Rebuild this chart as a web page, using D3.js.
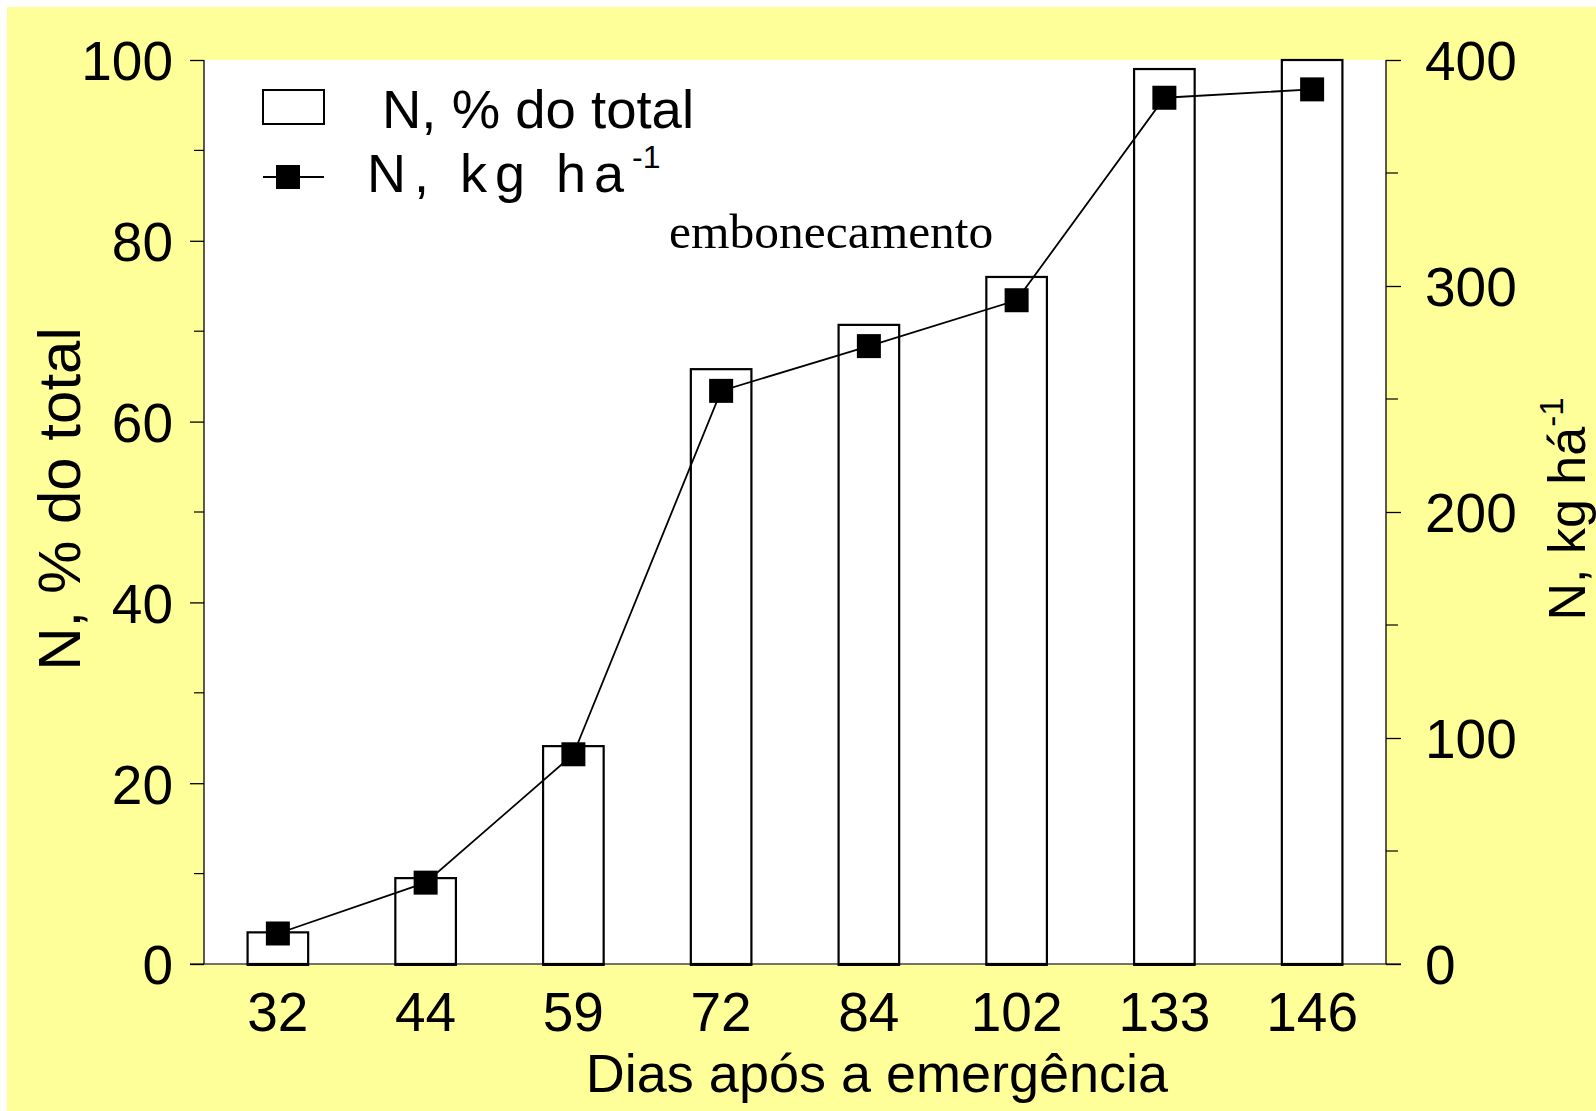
<!DOCTYPE html>
<html><head><meta charset="utf-8">
<script src="https://cdn.jsdelivr.net/npm/d3@7"></script>
<style>
html,body{margin:0;padding:0;background:#fff;}
svg{display:block;}
text{font-family:"Liberation Sans",Arial,sans-serif;fill:#000;}
</style></head>
<body>
<svg id="chart" width="1596" height="1111"></svg>
<script>
const days = ["32","44","59","72","84","102","133","146"];
const pctTotal = [3.5, 9.5, 24.1, 65.8, 70.7, 76.0, 99.0, 100];
const kgHa = [13.5, 36, 92.8, 253.6, 273.4, 293.7, 383.3, 387];
const leftTicks = [0,20,40,60,80,100];
const leftMinor = [10,30,50,70,90];
const rightTicks = [0,100,200,300,400];
const rightMinor = [50,150,250,350];

const svg = d3.select("#chart");
const W = 1596, H = 1111;
const m = {l:204, r:1386, t:60, b:964};

svg.append("rect").attr("x",7).attr("y",7).attr("width",W-7).attr("height",H-7).attr("fill","#ffff99");
svg.append("rect").attr("x",m.l).attr("y",m.t).attr("width",m.r-m.l).attr("height",m.b-m.t).attr("fill","#fff");

const x = d3.scaleBand().domain(days).range([m.l,m.r]).padding(0);
const yL = d3.scaleLinear().domain([0,100]).range([m.b,m.t]);
const yR = d3.scaleLinear().domain([0,400]).range([m.b,m.t]);
const bw = x.bandwidth()*0.41;

// bars
svg.append("g").selectAll("rect").data(days).join("rect")
  .attr("x",d=>x(d)+x.bandwidth()/2-bw/2)
  .attr("y",(d,i)=>yL(pctTotal[i]))
  .attr("width",bw)
  .attr("height",(d,i)=>yL(0)-yL(pctTotal[i]))
  .attr("fill","#fff").attr("stroke","#000").attr("stroke-width",2.2);

// baseline
svg.append("line").attr("x1",m.l-14).attr("x2",m.r+15).attr("y1",m.b).attr("y2",m.b).attr("stroke","#444").attr("stroke-width",1.3);
svg.append("g").selectAll("line").data(days).join("line")
  .attr("x1",d=>x(d)+x.bandwidth()/2-bw/2-1).attr("x2",d=>x(d)+x.bandwidth()/2+bw/2+1)
  .attr("y1",m.b+0.5).attr("y2",m.b+0.5).attr("stroke","#000").attr("stroke-width",3);

// left axis
const axL = d3.axisLeft(yL).tickValues(leftTicks).tickSize(14).tickPadding(17);
const gL = svg.append("g").attr("transform",`translate(${m.l},0)`).call(axL);
gL.select(".domain").remove();
gL.selectAll(".tick line").attr("stroke","#000").attr("stroke-width",1.3);
gL.selectAll(".tick text").style("font-size","55px").attr("dy","0.36em");
svg.append("g").selectAll("line").data(leftMinor).join("line")
  .attr("x1",m.l-10).attr("x2",m.l).attr("y1",d=>yL(d)).attr("y2",d=>yL(d)).attr("stroke","#000").attr("stroke-width",1.2);
svg.append("line").attr("x1",m.l).attr("x2",m.l).attr("y1",m.t).attr("y2",m.b).attr("stroke","#000").attr("stroke-width",1.3);

// right axis
const axR = d3.axisRight(yR).tickValues(rightTicks).tickSize(15).tickPadding(24);
const gR = svg.append("g").attr("transform",`translate(${m.r},0)`).call(axR);
gR.select(".domain").remove();
gR.selectAll(".tick line").attr("stroke","#000").attr("stroke-width",1.3);
gR.selectAll(".tick text").style("font-size","55px").attr("dy","0.36em");
svg.append("g").selectAll("line").data(rightMinor).join("line")
  .attr("x1",m.r).attr("x2",m.r+12).attr("y1",d=>yR(d)).attr("y2",d=>yR(d)).attr("stroke","#000").attr("stroke-width",1.2);
svg.append("line").attr("x1",m.r).attr("x2",m.r).attr("y1",m.t).attr("y2",m.b).attr("stroke","#000").attr("stroke-width",1.3);

// x axis labels
const axB = d3.axisBottom(x).tickSize(0).tickPadding(28);
const gB = svg.append("g").attr("transform",`translate(0,${m.b})`).call(axB);
gB.select(".domain").remove();
gB.selectAll(".tick text").style("font-size","55px");

// line + markers
const line = d3.line().x((d,i)=>x(days[i])+x.bandwidth()/2).y(d=>yR(d));
svg.append("path").datum(kgHa).attr("d",line).attr("fill","none").attr("stroke","#000").attr("stroke-width",1.8);
const ms = 24;
svg.append("g").selectAll("rect").data(kgHa).join("rect")
  .attr("x",(d,i)=>x(days[i])+x.bandwidth()/2-ms/2).attr("y",d=>yR(d)-ms/2)
  .attr("width",ms).attr("height",ms).attr("fill","#000");

// annotation
svg.append("text").attr("x",669).attr("y",248).style("font-family","'Liberation Serif','Times New Roman',serif").style("font-size","49.5px").text("embonecamento");

// legend
svg.append("rect").attr("x",263).attr("y",90).attr("width",61).attr("height",34).attr("fill","#fff").attr("stroke","#000").attr("stroke-width",2);
svg.append("text").attr("x",382).attr("y",128).style("font-size","54.5px").text("N, % do total");
svg.append("line").attr("x1",263).attr("x2",324).attr("y1",177).attr("y2",177).attr("stroke","#000").attr("stroke-width",1.8);
svg.append("rect").attr("x",288-ms/2).attr("y",177-ms/2).attr("width",ms).attr("height",ms).attr("fill","#000");
const lt = svg.append("text").attr("x",367).attr("y",192).style("font-size","54px").style("letter-spacing","8px");
lt.append("tspan").text("N, kg ha");
lt.append("tspan").attr("dy",-24).style("font-size","32px").style("letter-spacing","0px").text("-1");

// axis titles
svg.append("text").attr("transform","translate(80,499) rotate(-90)").attr("text-anchor","middle").style("font-size","60px").text("N, % do total");
const rt = svg.append("text").attr("transform","translate(1585,509) rotate(-90)").attr("text-anchor","middle").style("font-size","52px");
rt.append("tspan").text("N, kg há");
rt.append("tspan").attr("dy",-22).style("font-size","33px").text("-1");
svg.append("text").attr("x",877).attr("y",1092).attr("text-anchor","middle").style("font-size","54px").text("Dias após a emergência");
</script>
</body></html>
